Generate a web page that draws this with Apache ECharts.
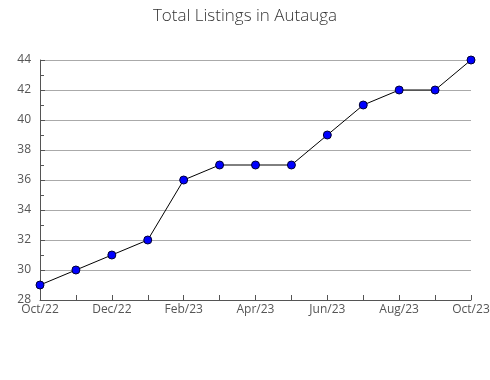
<!DOCTYPE html>
<html><head><meta charset="utf-8">
<script src="https://cdn.jsdelivr.net/npm/echarts@6/dist/echarts.min.js"></script>
<style>html,body{margin:0;padding:0;background:#fff}#c{width:490px;height:380px}</style>
</head><body><div id="c"></div>
<script>
const categories = ["Oct/22","Nov/22","Dec/22","Jan/23","Feb/23","Mar/23","Apr/23","May/23","Jun/23","Jul/23","Aug/23","Sep/23","Oct/23"];
const listings = [29,30,31,32,36,37,37,37,39,41,42,42,44];
const yMin = 28, yMax = 44, yStep = 2;
const chart = echarts.init(document.getElementById('c'));
chart.setOption({
  animation: false,
  title: { text: 'Total Listings in Autauga', left: 'center', top: 3,
    textStyle: { fontFamily: 'Open Sans', fontWeight: 300, fontSize: 17, color: '#333' } },
  grid: { left: 40, right: 19, top: 60, bottom: 80, outerBoundsMode: 'none', containLabel: false },
  xAxis: { type: 'category', data: categories, boundaryGap: false,
    axisLine: { lineStyle: { color: '#555' } },
    axisTick: { show: true, inside: true, length: 5, interval: 0, lineStyle: { color: '#555' } },
    axisLabel: { interval: 1, color: '#555', fontFamily: 'Open Sans', fontSize: 12, margin: 4 },
    splitLine: { show: false } },
  yAxis: { type: 'value', min: yMin, max: yMax, interval: yStep,
    axisLine: { show: true, lineStyle: { color: '#555' } },
    axisTick: { show: true, inside: true, length: 5, lineStyle: { color: '#555' } },
    minorTick: { show: true, splitNumber: 2, length: 4, lineStyle: { color: '#555' } },
    axisLabel: { color: '#555', fontFamily: 'Open Sans', fontSize: 12, margin: 9 },
    splitLine: { show: true, lineStyle: { color: '#aaa', width: 1 } } },
  series: [{ type: 'line', data: listings, symbol: 'circle', symbolSize: 8,
    lineStyle: { color: '#000', width: 1 },
    itemStyle: { color: '#0000ff', borderColor: '#000033', borderWidth: 1 } }]
});
</script></body></html>
